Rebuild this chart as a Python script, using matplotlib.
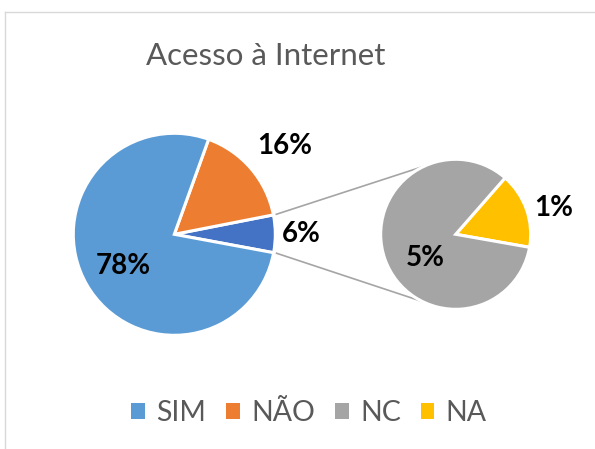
import numpy as np
import matplotlib.pyplot as plt
from matplotlib.patches import Patch

# data
main_labels = ['SIM', 'NÃO']
main_values = [77.6, 16.4]
sub_labels = ['NC', 'NA']
sub_values = [5.02, 0.98]

# colours (Excel default palette)
C_SIM = '#5B9BD5'
C_NAO = '#ED7D31'
C_OTHER = '#4472C4'
C_NC = '#A5A5A5'
C_NA = '#FFC000'
TXT_GRAY = '#595959'

W, H = 595, 449
FONT = 'Lato'

# layout (pixels, y measured from top of image)
MAIN_C = (174.3, 234.3)
MAIN_R = 101
SUB_C = (455.7, 234.3)
SUB_R = 75
CONNECT_ANGLES = (114.5, 243.8)


def flip(x, y):
    return x, H - y


fig = plt.figure(figsize=(W / 100, H / 100), dpi=100)
ax = fig.add_axes([0, 0, 1, 1])

# chart border (top + left visible)
ax.plot([4.5, W], [H - 11.5, H - 11.5], color='#D9D9D9', lw=1.0)
ax.plot([4.5, 4.5], [0, H - 11.5], color='#D9D9D9', lw=1.0)

# main pie: other, NÃO, SIM
other = sum(sub_values)
vals = [other, main_values[1], main_values[0]]
start = -other / 100 * 360 / 2 + 0.3
w_main, _ = ax.pie(vals, colors=[C_OTHER, C_NAO, C_SIM], startangle=start,
                   counterclock=True, center=flip(*MAIN_C), radius=MAIN_R,
                   wedgeprops=dict(edgecolor='white', linewidth=2.2),
                   frame=True)

# secondary pie: NA, NC
sub_start = -10
w_sub, _ = ax.pie([sub_values[1], sub_values[0]], colors=[C_NA, C_NC],
                  startangle=sub_start, center=flip(*SUB_C), radius=SUB_R,
                  wedgeprops=dict(edgecolor='white', linewidth=2.2),
                  frame=True)
ax.set_xlim(0, W)
ax.set_ylim(0, H)
ax.set_aspect('equal')
ax.axis('off')

# connector lines
mcx, mcy = flip(*MAIN_C)
scx, scy = flip(*SUB_C)
t1, t2 = w_main[0].theta1, w_main[0].theta2
for tm, ts in [(t2, CONNECT_ANGLES[0]), (t1, CONNECT_ANGLES[1])]:
    x0 = mcx + (MAIN_R + 3) * np.cos(np.radians(tm))
    y0 = mcy + (MAIN_R + 3) * np.sin(np.radians(tm))
    x1 = scx + SUB_R * np.cos(np.radians(ts))
    y1 = scy + SUB_R * np.sin(np.radians(ts))
    ax.plot([x0, x1], [y0, y1], color='#A5A5A5', lw=1.2, zorder=0)

# data labels
def pct(v):
    return f'{v:.0f}%'

lab_kw = dict(fontsize=20, fontweight='bold', family=FONT, color='black',
              ha='center', va='center')
ax.text(*flip(123, 265.5), pct(main_values[0]), **lab_kw)
ax.text(*flip(285, 146), pct(main_values[1]), **lab_kw)
ax.text(*flip(301, 234), pct(other), **lab_kw)
ax.text(*flip(425, 258), pct(sub_values[0]), **lab_kw)
ax.text(*flip(553.5, 208), pct(sub_values[1]), **lab_kw)

# title
ax.text(*flip(265.5, 56), 'Acesso à Internet', fontsize=22.5, family=FONT,
        color=TXT_GRAY, ha='center', va='center')

# legend
handles = [Patch(facecolor=c, edgecolor='none') for c in [C_SIM, C_NAO, C_NC, C_NA]]
leg = ax.legend(handles, main_labels + sub_labels, ncol=4, loc='center',
                bbox_to_anchor=(309 / W, 1 - 413 / H), frameon=False,
                prop=dict(family=FONT, size=20.5), handlelength=0.48,
                handleheight=0.48, handletextpad=0.4, columnspacing=0.7)
for t in leg.get_texts():
    t.set_color(TXT_GRAY)

fig.savefig('out.png', dpi=100)
